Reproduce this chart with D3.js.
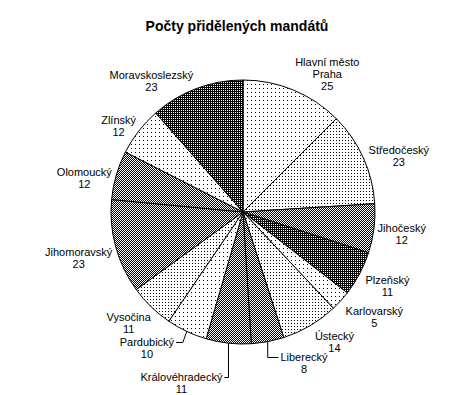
<!DOCTYPE html>
<html>
<head>
<meta charset="utf-8">
<script src="https://cdn.jsdelivr.net/npm/d3@7"></script>
<style>
  body { margin: 0; background: #fff; }
  text { font-family: "Liberation Sans", Arial, sans-serif; fill: #000; }
</style>
</head>
<body>
<svg id="chart" width="473" height="395"></svg>
<script>
// data
const regions = [
  'Hlavní město\nPraha', 'Středočeský', 'Jihočeský', 'Plzeňský', 'Karlovarský',
  'Ústecký', 'Liberecký', 'Královéhradecký', 'Pardubický', 'Vysočina',
  'Jihomoravský', 'Olomoucký', 'Zlínský', 'Moravskoslezský'
]
const mandates = [25, 23, 12, 11, 5, 14, 8, 11, 10, 11, 23, 12, 12, 23]
const chartTitle = 'Počty přidělených mandátů'

// layout (integer centre so the 1px patterns stay crisp)
const cx = 243, cy = 212, radius = 132
const labelRadius = 160
const lineHeight = 12
const slicePatterns = [
  'sparse', 'medium', 'checker', 'dark', 'sparse', 'medium', 'checker',
  'checker', 'sparse', 'medium', 'checker', 'checker', 'sparse', 'dark'
]
// small shifts from the radial label position, like Excel's best fit
const labelNudge = [
  [23, 10], [10, 10], [0, 2], [3, -1], [13, -3], [10, -8], [31, -6],
  [-44, 12], [-28, -9], [-3, -4], [-10, 4], [-5, 11], [2, 12], [-35, 19]
]
// leader lines: index -> which side of the label, elbow shift
const leaders = { 6: { side: 'left', elbow: 0 }, 7: { side: 'right', elbow: 0 }, 8: { side: 'right', elbow: -4 } }

const svg = d3.select('#chart')

// fill patterns
const defs = svg.append('defs')
function addPattern(id, size, cells) {
  const p = defs.append('pattern')
    .attr('id', id)
    .attr('patternUnits', 'userSpaceOnUse')
    .attr('width', size[0]).attr('height', size[1])
  p.append('rect').attr('width', size[0]).attr('height', size[1]).attr('fill', '#fff')
  cells.forEach(c => {
    p.append('rect')
      .attr('x', c[0]).attr('y', c[1])
      .attr('width', 1).attr('height', 1)
      .attr('fill', '#000')
      .attr('shape-rendering', 'crispEdges')
  })
}
addPattern('sparse', [4, 4], [[0, 0]])
addPattern('medium', [3, 3], [[0, 0]])
addPattern('checker', [2, 2], [[0, 0], [1, 1]])
addPattern('dark', [2, 2], [[1, 0], [0, 1], [1, 1]])

svg.append('text')
  .attr('x', 237).attr('y', 26)
  .attr('dy', '0.35em')
  .attr('text-anchor', 'middle')
  .style('font-size', '14px')
  .style('font-weight', 'bold')
  .text(chartTitle)

const pie = d3.pie().sort(null).value(d => d)
const arcs = pie(mandates)
const arc = d3.arc().innerRadius(0).outerRadius(radius)

const g = svg.append('g').attr('transform', 'translate(' + cx + ',' + cy + ')')

g.selectAll('path.slice')
  .data(arcs)
  .enter()
  .append('path')
  .attr('class', 'slice')
  .attr('d', arc)
  .attr('fill', (d, i) => 'url(#' + slicePatterns[i] + ')')
  .attr('stroke', '#000')
  .attr('stroke-width', 1)

// labels
arcs.forEach((d, i) => {
  const mid = (d.startAngle + d.endAngle) / 2
  const lx = Math.sin(mid) * labelRadius + labelNudge[i][0]
  const ly = -Math.cos(mid) * labelRadius + labelNudge[i][1]
  const lines = regions[i].split('\n').concat([String(mandates[i])])
  const top = ly - (lines.length - 1) * lineHeight / 2
  const t = g.append('text')
    .attr('text-anchor', 'middle')
    .style('font-size', '11px')
  lines.forEach((s, k) => {
    t.append('tspan')
      .attr('x', lx)
      .attr('y', top + k * lineHeight)
      .attr('dy', '0.35em')
      .text(s)
  })

  const lead = leaders[i]
  if (lead) {
    const w = t.select('tspan').node().getComputedTextLength()
    const sx = Math.sin(mid) * radius
    const sy = -Math.cos(mid) * radius
    const ex = lead.side === 'left' ? lx - w / 2 - 2 : lx + w / 2 + 2
    g.append('path')
      .attr('d', d3.line()([[sx, sy], [sx + lead.elbow, Math.round(top) + 0.5], [ex, Math.round(top) + 0.5]]))
      .attr('fill', 'none')
      .attr('stroke', '#000')
      .attr('stroke-width', 1)
  }
})
</script>
</body>
</html>
